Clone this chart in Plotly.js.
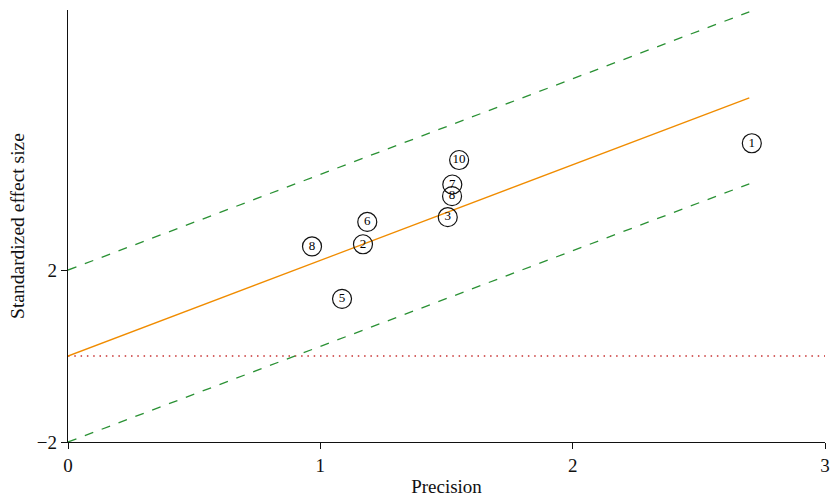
<!DOCTYPE html>
<html><head><meta charset="utf-8">
<script src="https://cdn.plot.ly/plotly-3.0.1.min.js"></script>
<style>html,body{margin:0;padding:0;background:#fff}</style>
</head><body>
<div id="chart" style="width:833px;height:503px"></div>
<script>
const studyLabels = ["1","10","7","8","3","6","2","8","5"];
const precision = [2.71, 1.55, 1.523, 1.522, 1.505, 1.186, 1.169, 0.967, 1.086];
const effectSize = [4.95, 4.56, 3.99, 3.72, 3.23, 3.12, 2.60, 2.55, 1.33];
const slope = 2.225;
const lineX = [0, 2.7];
const band = 2;
const xTicks = [0, 1, 2, 3];
const yTicks = [-2, 2];
const yTickText = ["\u22122", "2"];

const serif = "Liberation Serif, Times New Roman, serif";
const traces = [
  {x: [0, 3], y: [0, 0], mode: "lines", line: {color: "#c83232", width: 1.6, dash: "1.5px,4.8px"}, hoverinfo: "skip"},
  {x: lineX, y: lineX.map(v => slope * v + band), mode: "lines", line: {color: "#2a9134", width: 1.3, dash: "dash"}},
  {x: lineX, y: lineX.map(v => slope * v - band), mode: "lines", line: {color: "#2a9134", width: 1.3, dash: "dash"}},
  {x: lineX, y: lineX.map(v => slope * v), mode: "lines", line: {color: "#f08c00", width: 1.3}},
  {x: precision, y: effectSize, text: studyLabels, mode: "markers+text", textposition: "middle center",
   textfont: {family: serif, size: 13, color: "#000"},
   marker: {symbol: "circle-open", size: 19, color: "#111", line: {width: 1.2, color: "#111"}}}
];
const layout = {
  width: 833, height: 503,
  margin: {l: 68, r: 8, t: 10, b: 61},
  showlegend: false,
  plot_bgcolor: "#fff", paper_bgcolor: "#fff",
  font: {family: serif, size: 19, color: "#111"},
  xaxis: {range: [0, 3], tickvals: xTicks, ticks: "outside", ticklen: 6, tickcolor: "#111",
    showgrid: false, zeroline: false, showline: true, linecolor: "#111", linewidth: 1.3,
    tickfont: {family: serif, size: 19},
    title: {text: "Precision", font: {family: serif, size: 19}, standoff: 4}},
  yaxis: {range: [-2, 8.05], tickvals: yTicks, ticktext: yTickText, ticks: "outside", ticklen: 6, tickcolor: "#111",
    showgrid: false, zeroline: false, showline: true, linecolor: "#111", linewidth: 1.3,
    tickfont: {family: serif, size: 19},
    title: {text: "Standardized effect size", font: {family: serif, size: 19.5}, standoff: 7}}
};
Plotly.newPlot("chart", traces, layout, {displayModeBar: false, staticPlot: true});
</script>
</body></html>
